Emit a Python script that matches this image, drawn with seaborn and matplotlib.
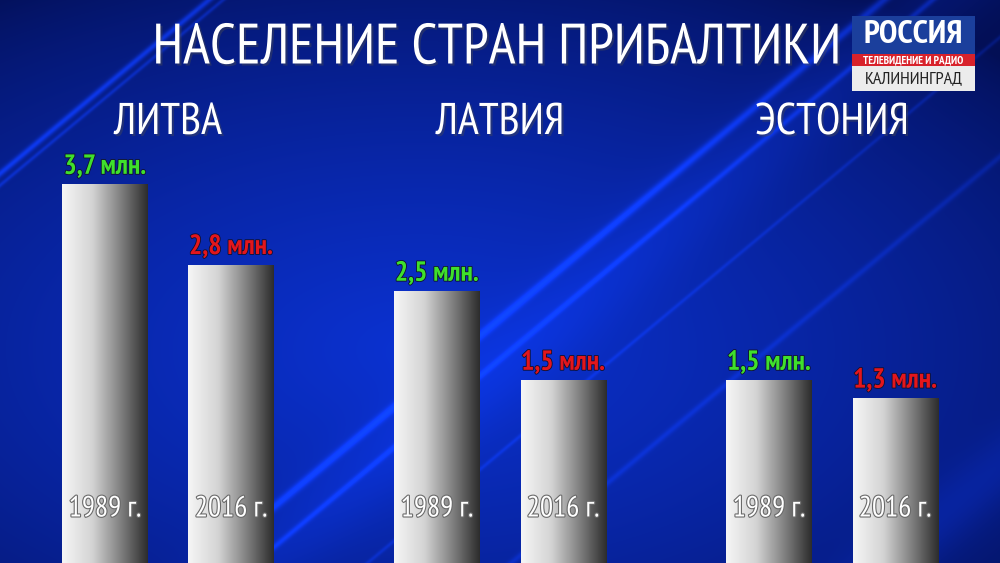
import numpy as np
import pandas as pd
import matplotlib
matplotlib.use('Agg')
import matplotlib.pyplot as plt
import matplotlib.patheffects as pe
import matplotlib.transforms as mtransforms
from matplotlib.colors import LinearSegmentedColormap, to_rgb
from matplotlib.patches import Rectangle
from matplotlib import font_manager as fm
import seaborn as sns

title = 'НАСЕЛЕНИЕ СТРАН ПРИБАЛТИКИ'
countries = ['ЛИТВА', 'ЛАТВИЯ', 'ЭСТОНИЯ']
years = ['1989 г.', '2016 г.']
pop_1989 = [3.7, 2.5, 1.5]
pop_2016 = [2.8, 1.5, 1.3]

df = pd.DataFrame({
    'country': countries * 2,
    'year': [years[0]] * 3 + [years[1]] * 3,
    'pop': pop_1989 + pop_2016,
})

sns.set_theme(style='white')
installed = {f.name for f in fm.fontManager.ttflist}
wanted = ['PT Sans Narrow', 'Fira Sans Condensed', 'Roboto Condensed',
          'IBM Plex Sans Condensed', 'DejaVu Sans']
fams = [f for f in wanted if f in installed] + ['DejaVu Sans']
plt.rcParams['font.family'] = fams

W, H = 1000, 563
fig = plt.figure(figsize=(W / 100, H / 100), dpi=100)

# --- blue studio background
bg = fig.add_axes([0, 0, 1, 1], zorder=0)
yy, xx = np.mgrid[0:H, 0:W].astype(float)
t = 1 - np.hypot((xx / W - 0.42) / 0.8, (yy / H - 0.62) / 0.75)
t = np.clip(t, 0, 1) ** 0.7
dark = np.array(to_rgb('#030f55'))
bright = np.array(to_rgb('#0b32d2'))
img = dark + (bright - dark) * t[..., None]
u = xx * 0.64 + yy * 0.77
glow = np.zeros_like(u)
for c, s, a in [(133, 3, 0.5), (142, 2, 0.3), (565, 4, 0.45), (596, 3, 0.35),
                (668, 2, 0.2), (760, 3, 0.2), (600, 40, 0.12), (1000, 30, 0.15)]:
    glow += a * np.exp(-((u - c) / s) ** 2)
img = img + glow[..., None] * np.array([0.05, 0.2, 0.75])
bg.imshow(np.clip(img, 0, 1), extent=[0, 1, 0, 1], aspect='auto')
bg.axis('off')

# --- bars
ax = fig.add_axes([0, 0, 1, 1], zorder=1)
ax.patch.set_alpha(0)
sns.barplot(data=df, x='country', y='pop', hue='year', width=0.76, gap=0.325,
            legend=False, ax=ax)
xmin, xmax, ymin, ymax = -0.506, 2.506, -0.55, 5.77

bar_cmap = LinearSegmentedColormap.from_list(
    'bar', [(0, '#f6f6f6'), (0.35, '#d4d4d4'), (0.7, '#7c7c7c'), (1, '#2c2c2c')])
grad = np.linspace(0, 1, 256).reshape(1, -1)
year_tr = mtransforms.blended_transform_factory(ax.transData, ax.transAxes)

for p in list(ax.patches):
    val = p.get_height()
    x0 = p.get_x()
    bw = p.get_width()
    cx = x0 + bw / 2
    old = cx < round(cx)
    p.set_y(ymin)
    p.set_height(val - ymin)
    p.set_facecolor('none')
    p.set_edgecolor('none')
    im = ax.imshow(grad, cmap=bar_cmap, extent=[x0, x0 + bw, ymin, val],
                   aspect='auto', zorder=2)
    im.set_clip_path(p)
    label = f'{val:.1f}'.replace('.', ',') + ' млн.'
    ax.annotate(label, (cx, val), xytext=(0, 4), textcoords='offset points',
                ha='center', va='bottom', fontsize=20, fontweight='bold',
                color='#3fe02c' if old else '#e3161c', zorder=3,
                path_effects=[pe.withStroke(linewidth=1.2, foreground='#101030')])
    ax.text(cx, 0.096, years[0] if old else years[1], transform=year_tr,
            ha='center', va='center', fontsize=21, color='white', zorder=3,
            path_effects=[pe.withStroke(linewidth=1.6, foreground='#6a6a6a')])

for i, name in enumerate(countries):
    ax.text(i, 0.7815, name, transform=year_tr, ha='center', va='center',
            fontsize=32, color='white', zorder=3,
            path_effects=[pe.withSimplePatchShadow(offset=(1.5, -1.5), alpha=0.4)])

ax.set_xlim(xmin, xmax)
ax.set_ylim(ymin, ymax)
ax.axis('off')

fig.text(0.497, 1 - 49 / H, title, ha='center', va='center', fontsize=41,
         color='white', zorder=3,
         path_effects=[pe.withSimplePatchShadow(offset=(1.5, -1.5), alpha=0.4)])

# --- channel logo
def fx(px):
    return px / W

def fy(py):
    return 1 - py / H

lx0, lx1 = 852, 975
for top, bot, col in [(16, 54, '#1b3f9c'), (54, 66, '#d8222b'), (66, 91, '#ececec')]:
    fig.patches.append(Rectangle((fx(lx0), fy(bot)), fx(lx1) - fx(lx0), fy(top) - fy(bot),
                                 transform=fig.transFigure, facecolor=col,
                                 edgecolor='none', zorder=4))
lc = fx((lx0 + lx1) / 2)
fig.text(lc, fy(35), 'РОССИЯ', ha='center', va='center', fontsize=24,
         fontweight='bold', color='white', zorder=5)
fig.text(lc, fy(60.5), 'ТЕЛЕВИДЕНИЕ И РАДИО', ha='center', va='center', fontsize=8,
         fontweight='bold', color='white', zorder=5)
fig.text(lc, fy(79), 'КАЛИНИНГРАД', ha='center', va='center', fontsize=13,
         color='#222222', zorder=5)

fig.savefig('out.png', dpi=100)
